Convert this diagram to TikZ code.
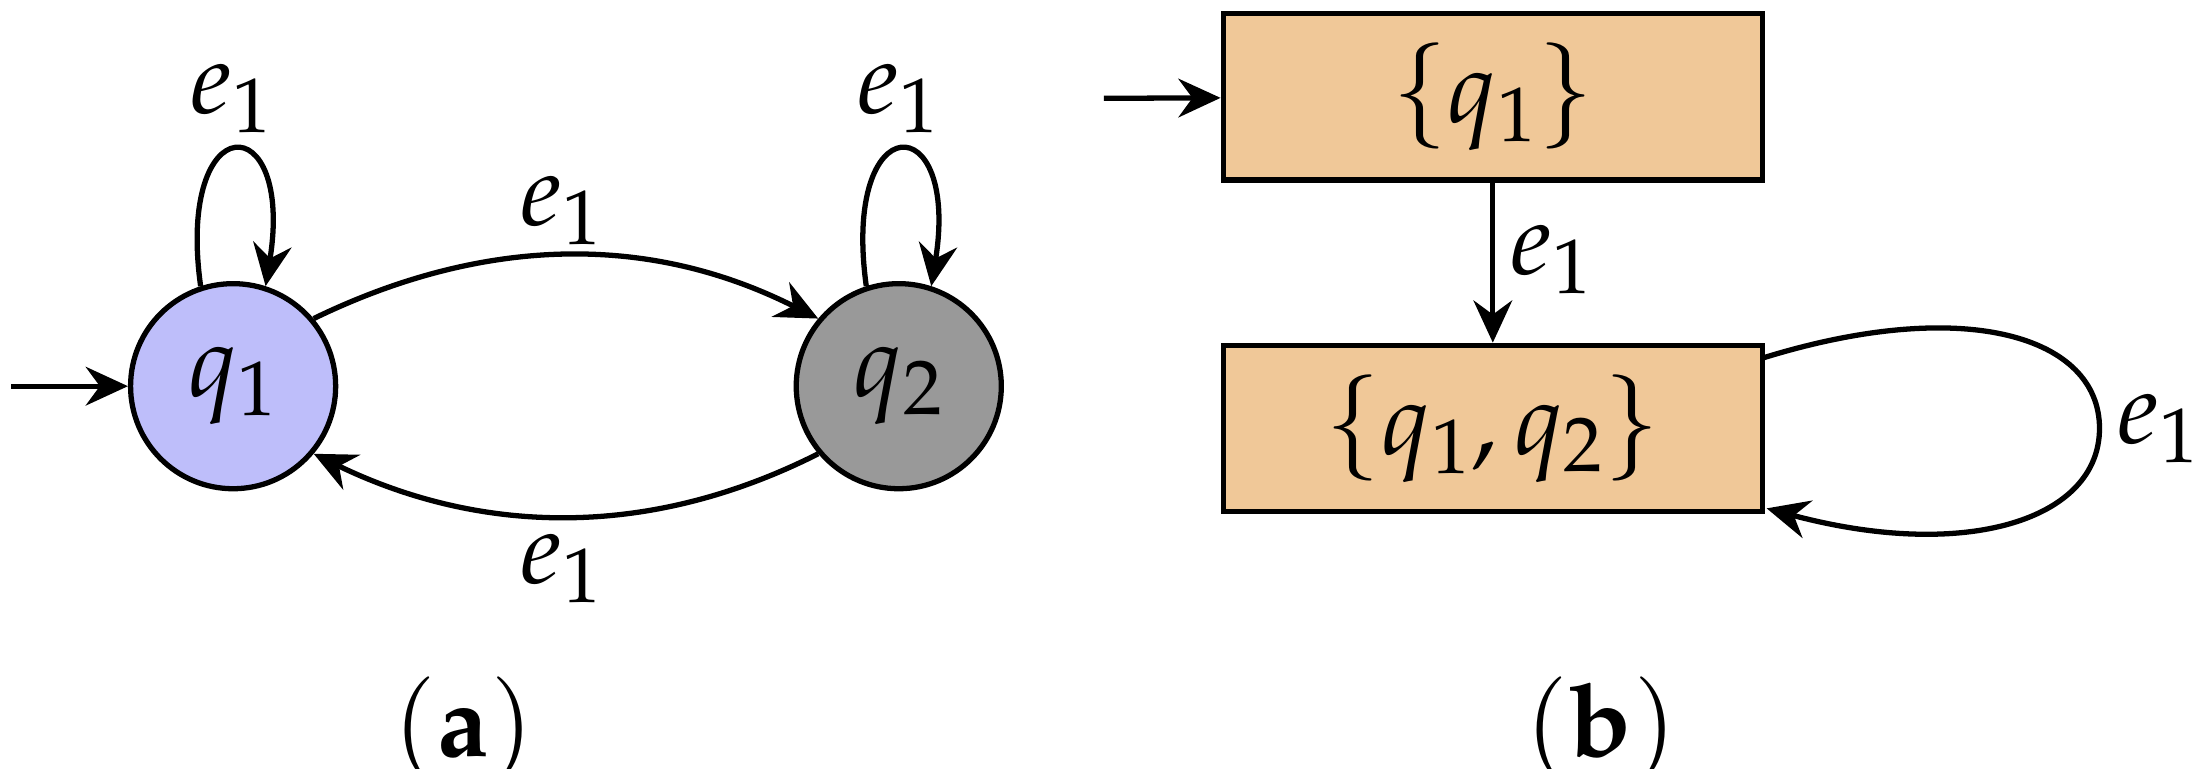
\documentclass[tikz,border=0pt]{standalone}
\usepackage{mathpazo}
\usetikzlibrary{arrows.meta}
\begin{document}
\begin{tikzpicture}[x=0.014043cm,y=-0.014043cm,
  every node/.style={font=\fontsize{29}{34}\selectfont},
  st/.style={circle,draw,line width=1.5pt,minimum size=2.05cm,inner sep=0},
  bx/.style={draw,line width=1.5pt,fill={rgb,255:red,240;green,200;blue,152},minimum width=5.39cm,minimum height=1.66cm},
  ed/.style={line width=1.5pt,-{Stealth[length=12pt,width=11pt,inset=4pt]}},
  lab/.style={inner sep=0}]
\useasboundingbox (0,0) rectangle (1568,547);
\node[st,fill={rgb,255:red,190;green,190;blue,250}] (q1) at (166,275) {$q_1$};
\node[st,fill={rgb,255:red,153;green,153;blue,153}] (q2) at (640,275) {$q_2$};
\coordinate (i1) at (8,275);
\draw[ed] (i1) -- (q1);
\draw[ed] (q1.108) .. controls (125,75) and (210,75) .. (q1.72);
\draw[ed] (q2.108) .. controls (599,75) and (684,75) .. (q2.72);
\draw[ed] (q1.40) .. controls (330,175) and (450,160) .. (q2.140);
\draw[ed] (q2.220) .. controls (450,390) and (330,375) .. (q1.320);
\node[lab] (l1) at (165,70) {$e_1$};
\node[lab] (l2) at (640,70) {$e_1$};
\node[lab] (l3) at (400,150) {$e_1$};
\node[lab] (l4) at (400,405) {$e_1$};
\node (la) at (330,520) {$\mathbf{(a)}$};
\node[bx] (b1) at (1063,69) {$\{q_1\}$};
\node[bx] (b2) at (1063,305) {$\{q_1,q_2\}$};
\coordinate (i2) at (786,70);
\draw[ed] (i2) -- (b1);
\draw[ed] (b1) -- (b2);
\node[lab] (l5) at (1105,185) {$e_1$};
\coordinate (s) at (1255,255);
\coordinate (t) at (1258,362);
\draw[ed] (s) .. controls (1400,210) and (1495,240) .. (1495,305) .. controls (1495,370) and (1400,400) .. (t);
\node[lab] (l6) at (1537,305) {$e_1$};
\node (lb) at (1140,520) {$\mathbf{(b)}$};
\end{tikzpicture}
\end{document}
